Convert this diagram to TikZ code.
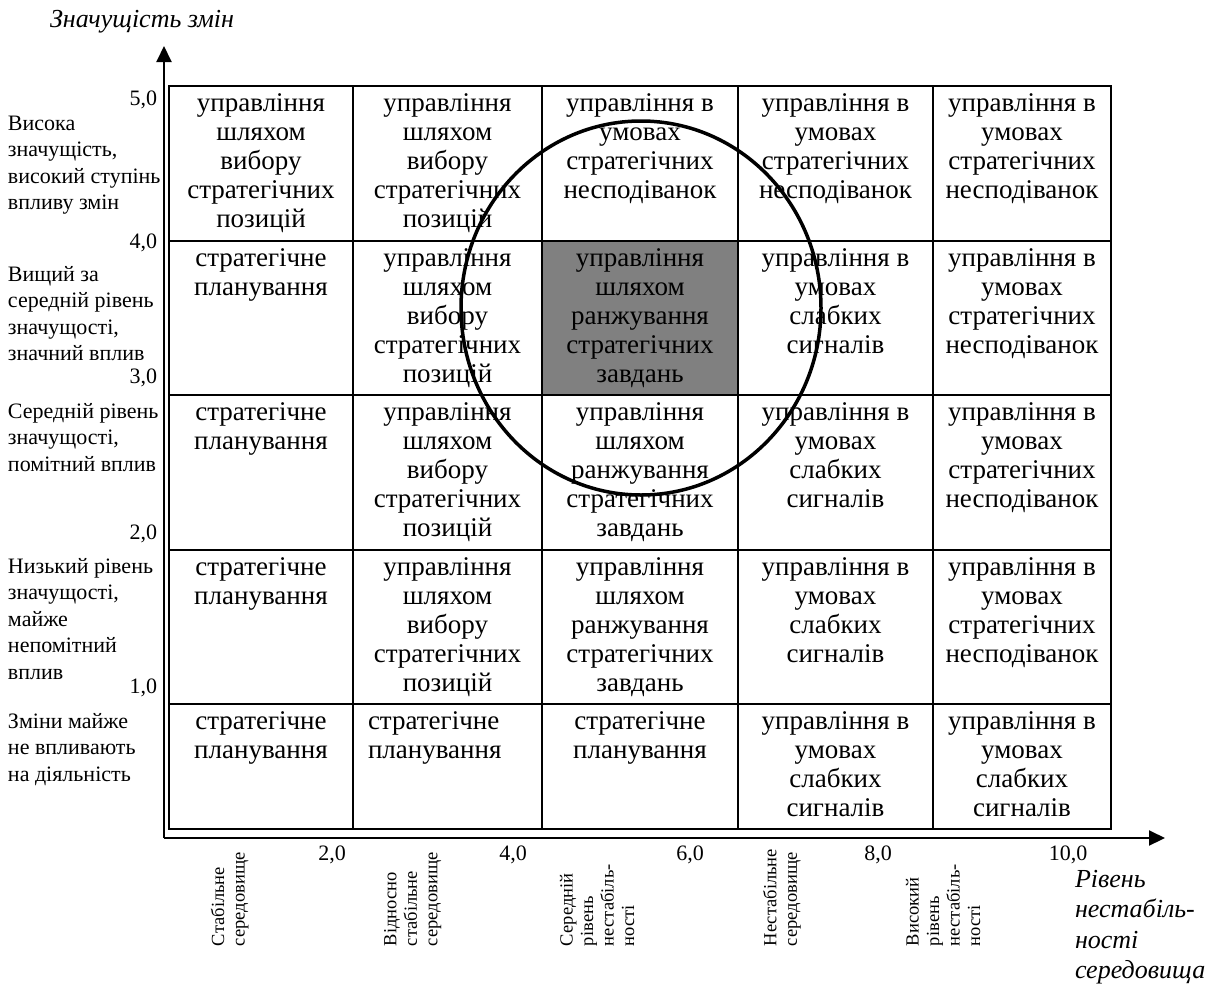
\documentclass[tikz,border=0pt]{standalone}
\usepackage{fontspec}
\setmainfont{Liberation Serif}
\usetikzlibrary{positioning,arrows.meta}

\newcommand{\celltext}[3]{\parbox[c][#2][t]{#1}{\centering\vspace*{5pt}\strut#3}}

\begin{document}
\begin{tikzpicture}[x=1pt, y=-1pt, node distance=0pt, outer sep=0pt,
    cell/.style={draw, rectangle, line width=2.2pt, inner sep=0pt, font=\fontsize{27}{29}\selectfont},
    axis/.style={line width=2pt, -{Triangle[length=16pt, width=15pt]}},
    ticklabel/.style={inner sep=0pt, font=\fontsize{22}{26.5}\selectfont},
    sidelabel/.style={inner sep=0pt, align=left, anchor=north west, font=\fontsize{22}{26.5}\selectfont},
    envlabel/.style={inner sep=0pt, align=left, anchor=north west, rotate=90, font=\fontsize{18.5}{20.5}\selectfont},
    axistitle/.style={inner sep=0pt, align=left, font=\itshape\fontsize{26}{30.5}\selectfont}]
    \useasboundingbox (0,0) rectangle (1220,991);

    % matrix of the cells, row by row
    \node [cell, anchor=north west] (c11) at (169,86) {\celltext{184pt}{155pt}{управління\\шляхом\\вибору\\стратегічних\\позицій}};
    \node [cell, right=of c11] (c12) {\celltext{189pt}{155pt}{управління\\шляхом\\вибору\\стратегічних\\позицій}};
    \node [cell, right=of c12] (c13) {\celltext{196pt}{155pt}{управління в\\умовах\\стратегічних\\несподіванок}};
    \node [cell, right=of c13] (c14) {\celltext{195pt}{155pt}{управління в\\умовах\\стратегічних\\несподіванок}};
    \node [cell, right=of c14] (c15) {\celltext{178pt}{155pt}{управління в\\умовах\\стратегічних\\несподіванок}};

    \node [cell, below=of c11] (c21) {\celltext{184pt}{154pt}{стратегічне\\планування}};
    \node [cell, right=of c21] (c22) {\celltext{189pt}{154pt}{управління\\шляхом\\вибору\\стратегічних\\позицій}};
    \node [cell, fill=black!50, right=of c22] (c23) {\celltext{196pt}{154pt}{управління\\шляхом\\ранжування\\стратегічних\\завдань}};
    \node [cell, right=of c23] (c24) {\celltext{195pt}{154pt}{управління в\\умовах\\слабких\\сигналів}};
    \node [cell, right=of c24] (c25) {\celltext{178pt}{154pt}{управління в\\умовах\\стратегічних\\несподіванок}};

    \node [cell, below=of c21] (c31) {\celltext{184pt}{155pt}{стратегічне\\планування}};
    \node [cell, right=of c31] (c32) {\celltext{189pt}{155pt}{управління\\шляхом\\вибору\\стратегічних\\позицій}};
    \node [cell, right=of c32] (c33) {\celltext{196pt}{155pt}{управління\\шляхом\\ранжування\\стратегічних\\завдань}};
    \node [cell, right=of c33] (c34) {\celltext{195pt}{155pt}{управління в\\умовах\\слабких\\сигналів}};
    \node [cell, right=of c34] (c35) {\celltext{178pt}{155pt}{управління в\\умовах\\стратегічних\\несподіванок}};

    \node [cell, below=of c31] (c41) {\celltext{184pt}{154pt}{стратегічне\\планування}};
    \node [cell, right=of c41] (c42) {\celltext{189pt}{154pt}{управління\\шляхом\\вибору\\стратегічних\\позицій}};
    \node [cell, right=of c42] (c43) {\celltext{196pt}{154pt}{управління\\шляхом\\ранжування\\стратегічних\\завдань}};
    \node [cell, right=of c43] (c44) {\celltext{195pt}{154pt}{управління в\\умовах\\слабких\\сигналів}};
    \node [cell, right=of c44] (c45) {\celltext{178pt}{154pt}{управління в\\умовах\\стратегічних\\несподіванок}};

    \node [cell, below=of c41] (c51) {\celltext{184pt}{125pt}{стратегічне\\планування}};
    \node [cell, right=of c51] (c52) {\parbox[c][125pt][t]{189pt}{\raggedright\leftskip=15pt\vspace*{5pt}\strut стратегічне\\планування}};
    \node [cell, right=of c52] (c53) {\celltext{196pt}{125pt}{стратегічне\\планування}};
    \node [cell, right=of c53] (c54) {\celltext{195pt}{125pt}{управління в\\умовах\\слабких\\сигналів}};
    \node [cell, right=of c54] (c55) {\celltext{178pt}{125pt}{управління в\\умовах\\слабких\\сигналів}};

    % the zone of the circle
    \draw [line width=3.5pt] (641,308) ellipse [x radius=180pt, y radius=187pt];

    % axes
    \coordinate (origin) at (164,838);
    \coordinate (ytip) at (164,46);
    \coordinate (xtip) at (1165,838);
    \draw [axis] (origin) -- (ytip);
    \draw [axis] (origin) -- (xtip);

    \node [axistitle, anchor=west] (ytitle) at (50,22) {Значущість змін};
    \node [axistitle, anchor=north west] (xtitle) at (1075,870) {Рівень\\нестабіль-\\ності\\середовища};

    % scale of significance
    \node [ticklabel, anchor=east] (v5) at (157,100) {5,0};
    \node [ticklabel, anchor=east] (v4) at (157,243) {4,0};
    \node [ticklabel, anchor=east] (v3) at (157,378) {3,0};
    \node [ticklabel, anchor=east] (v2) at (157,534) {2,0};
    \node [ticklabel, anchor=east] (v1) at (157,688) {1,0};

    \node [sidelabel] (s5) at (8,116) {Висока\\значущість,\\високий ступінь\\впливу змін};
    \node [sidelabel] (s4) at (8,266) {Вищий за\\середній рівень\\значущості,\\значний вплив};
    \node [sidelabel] (s3) at (8,403) {Середній рівень\\значущості,\\помітний вплив};
    \node [sidelabel] (s2) at (8,558) {Низький рівень\\значущості,\\майже\\непомітний\\вплив};
    \node [sidelabel] (s1) at (8,713) {Зміни майже\\не впливають\\на діяльність};

    % scale of instability
    \node [ticklabel] (h2) at (332,855) {2,0};
    \node [ticklabel] (h4) at (513,855) {4,0};
    \node [ticklabel] (h6) at (690,855) {6,0};
    \node [ticklabel] (h8) at (878,855) {8,0};
    \node [ticklabel] (h10) at (1068,855) {10,0};

    \node [envlabel] (e1) at (211,946) {Стабільне\\середовище};
    \node [envlabel] (e2) at (384,946) {Відносно\\стабільне\\середовище};
    \node [envlabel] (e3) at (560,946) {Середній\\рівень\\нестабіль-\\ності};
    \node [envlabel] (e4) at (763,946) {Нестабільне\\середовище};
    \node [envlabel] (e5) at (906,946) {Високий\\рівень\\нестабіль-\\ності};
\end{tikzpicture}
\end{document}
